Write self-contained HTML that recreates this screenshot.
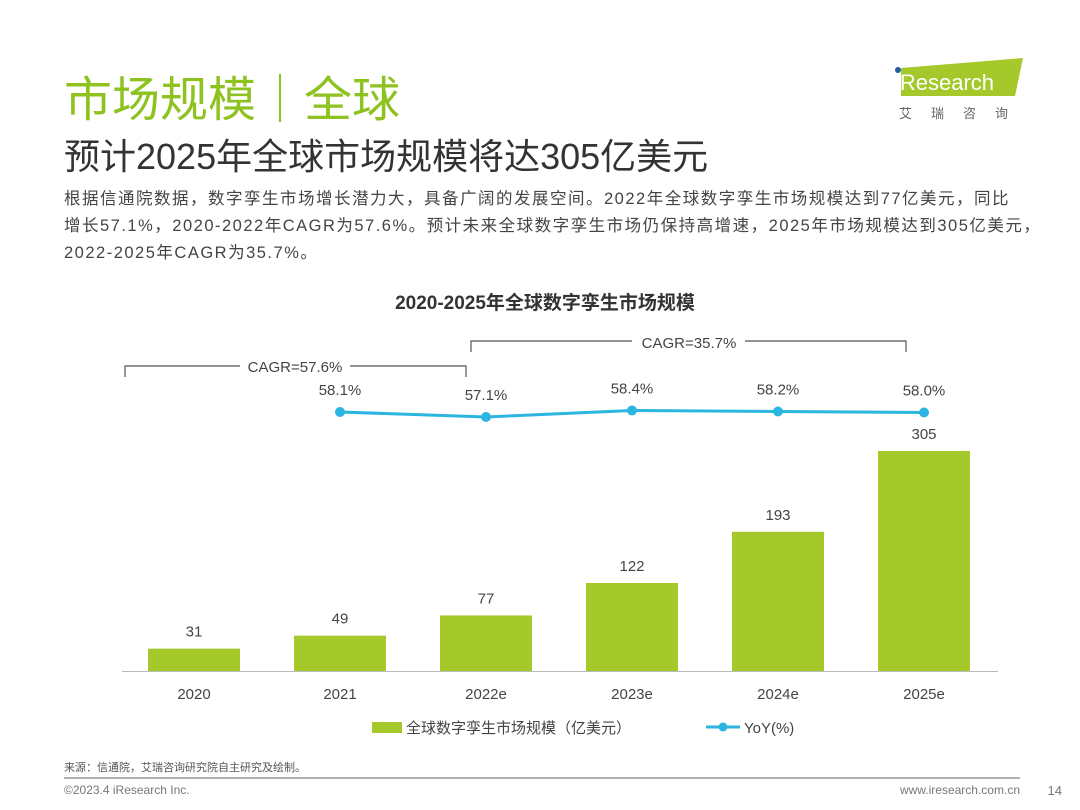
<!DOCTYPE html>
<html><head><meta charset="utf-8">
<style>
body{margin:0;width:1080px;height:810px;background:#fff;position:relative;overflow:hidden;font-family:"Liberation Sans","Noto Sans CJK SC",sans-serif;}
.abs{position:absolute;white-space:nowrap}
</style></head><body>
<div class="abs" style="left:64px;top:60px;font-size:48px;color:#8dc21f;">市场规模｜全球</div>
<div class="abs" style="left:64px;top:128px;font-size:36px;color:#333;">预计2025年全球市场规模将达305亿美元</div>
<div class="abs" style="left:64px;top:186px;font-size:16.5px;line-height:27px;color:#444;letter-spacing:1.5px;">根据信通院数据，数字孪生市场增长潜力大，具备广阔的发展空间。2022年全球数字孪生市场规模达到77亿美元，同比<br>增长57.1%，2020-2022年CAGR为57.6%。预计未来全球数字孪生市场仍保持高增速，2025年市场规模达到305亿美元，<br>2022-2025年CAGR为35.7%。</div>
<div class="abs" style="left:893px;top:56px;width:135px;height:70px;">
<svg width="135" height="70"><polygon points="8,12 130,2 122,40 8,40" fill="#a5c82a"/><circle cx="5" cy="14" r="3" fill="#1e5fa8"/><text x="2" y="34" font-size="22" fill="#fff" font-family="Liberation Sans">iResearch</text><text x="6" y="62" font-size="13" fill="#666" letter-spacing="19" font-family="Noto Sans CJK SC">艾瑞咨询</text></svg></div>
<svg class="abs" style="left:0;top:0" width="1080" height="810" id="chart">
<text x="545" y="309" text-anchor="middle" font-size="19" font-weight="bold" fill="#333">2020-2025年全球数字孪生市场规模</text>
<g stroke="#555" fill="none" stroke-width="1.2">
<polyline points="125,377 125,366 240,366"/><polyline points="350,366 466,366 466,377"/>
<polyline points="471,352 471,341 632,341"/><polyline points="745,341 906,341 906,352"/>
</g>
<text x="295" y="372" text-anchor="middle" font-size="15" fill="#444">CAGR=57.6%</text>
<text x="689" y="348" text-anchor="middle" font-size="15" fill="#444">CAGR=35.7%</text>
<line x1="122" y1="671.5" x2="998" y2="671.5" stroke="#bbb"/>
<g id="bars"></g><g id="line"></g>
<rect x="372" y="722" width="30" height="11" fill="#a5c82a"/>
<text x="406" y="733" font-size="15" fill="#444">全球数字孪生市场规模（亿美元）</text>
<line x1="706" y1="727" x2="740" y2="727" stroke="#2bb5e0" stroke-width="3"/>
<circle cx="723" cy="727" r="4.5" fill="#2bb5e0"/>
<text x="744" y="733" font-size="15" fill="#444">YoY(%)</text>
<text x="64" y="771" font-size="11" fill="#555">来源：信通院，艾瑞咨询研究院自主研究及绘制。</text>
<line x1="64" y1="778" x2="1020" y2="778" stroke="#999" stroke-width="1.5"/>
<text x="64" y="794" font-size="12" fill="#777">©2023.4 iResearch Inc.</text>
<text x="1020" y="794" text-anchor="end" font-size="12" fill="#777">www.iresearch.com.cn</text>
<text x="1062" y="795" text-anchor="end" font-size="13" fill="#777">14</text>
</svg>
<script>
const categories=["2020","2021","2022e","2023e","2024e","2025e"];
const marketSize=[31,49,77,122,193,305];
const yoyCats=["2021","2022e","2023e","2024e","2025e"];
const yoyValues=[58.1,57.1,58.4,58.2,58.0];
const NS="http://www.w3.org/2000/svg";
const xC=i=>194+i*146;
const yBar=v=>671-v*0.7213;
const yLine=v=>412-(v-58.1)*5;
function mk(t,a,p,txt){const e=document.createElementNS(NS,t);for(const k in a)e.setAttribute(k,a[k]);if(txt!==undefined)e.textContent=txt;p.appendChild(e);return e;}
const bars=document.getElementById('bars');
categories.forEach((c,i)=>{
 const v=marketSize[i];
 const r=mk('rect',{x:xC(i)-46,y:yBar(v),width:92,height:671-yBar(v),fill:'#a5c82a'},bars);
 
 
 const t=mk('text',{x:xC(i),y:yBar(v)-12,'text-anchor':'middle','font-size':15,fill:'#444'},bars,String(v));
 
 
 const l=mk('text',{x:xC(i),y:699,'text-anchor':'middle','font-size':15,fill:'#444'},bars,c);
 
 
});
const lg=document.getElementById('line');
const pts=yoyValues.map((v,i)=>[xC(categories.indexOf(yoyCats[i])),yLine(v)]);
const pl=mk('polyline',{points:pts.map(p=>p.join(',')).join(' '),fill:'none',stroke:'#2bb5e0','stroke-width':3},lg);


pts.forEach((p,i)=>{
 const c=mk('circle',{cx:p[0],cy:p[1],r:5,fill:'#2bb5e0'},lg);
 
 
 const t=mk('text',{x:p[0],y:p[1]-17,'text-anchor':'middle','font-size':15,fill:'#444'},lg,yoyValues[i].toFixed(1)+'%');
 
 
});
</script>
</body></html>
